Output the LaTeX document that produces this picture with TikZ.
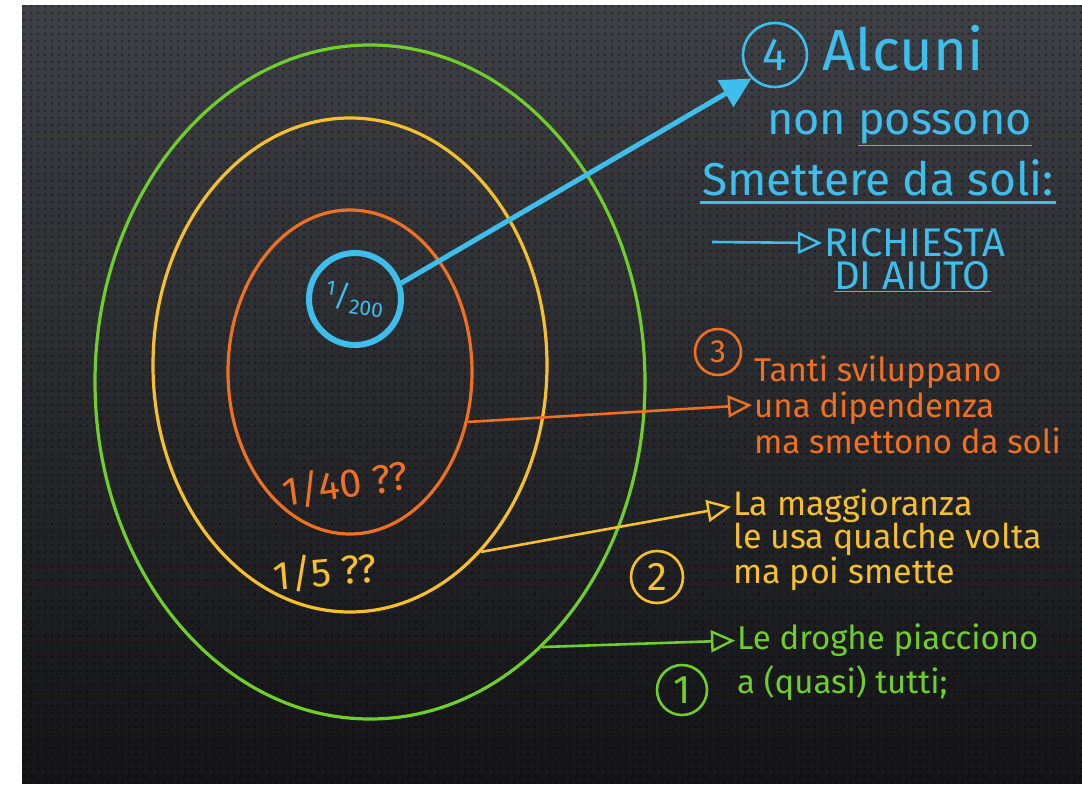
\documentclass[tikz,border=0pt]{standalone}
\usepackage{fontspec}
\setmainfont{Fira Sans}
\usetikzlibrary{shapes.geometric, arrows.meta, positioning, calc, patterns.meta}
\definecolor{boardtop}{RGB}{62,64,69}
\definecolor{boardbot}{RGB}{20,20,23}
\definecolor{chalkgreen}{RGB}{112,206,42}
\definecolor{chalkyellow}{RGB}{246,192,44}
\definecolor{chalkorange}{RGB}{240,112,34}
\definecolor{chalkblue}{RGB}{62,190,236}
\tikzdeclarepattern{
  name=boarddots,
  type=uncolored,
  bounding box={(0pt,0pt) and (7pt,7pt)},
  tile size={(7pt,7pt)},
  code={\fill (3.5pt,3.5pt) circle (1.7pt);}
}

\begin{document}
\begin{tikzpicture}[
    x=1pt, y=-1pt,
    ring/.style={ellipse, draw, line width=3.2pt, inner sep=0pt},
    num/.style={circle, draw, line width=2.6pt, inner sep=0pt, font=\fontsize{40}{42}\selectfont},
    note/.style={align=left, anchor=west, inner sep=2pt},
    arrow/.style={-{Triangle[open, length=24pt, width=22pt, line width=2.4pt]}, line width=2.6pt}
]
% board
\useasboundingbox (0,0) rectangle (1082,786);
\fill[white] (0,0) rectangle (1082,786);
\shade[top color=boardtop, bottom color=boardbot] (22,6) rectangle (1082,783);
\fill[pattern=boarddots, pattern color=black, opacity=0.35] (22,6) rectangle (1082,783);

% rings
\node[ring, draw=chalkgreen, minimum width=550pt, minimum height=674pt] (ring1) at (370,382) {};
\node[ring, draw=chalkyellow, minimum width=394pt, minimum height=494pt] (ring2) at (350,365) {};
\node[ring, draw=chalkorange, minimum width=244pt, minimum height=324pt] (ring3) at (350,372) {};
\node[circle, draw=chalkblue, line width=6pt, minimum size=92pt, inner sep=0pt, text=chalkblue,
      font=\fontsize{30}{32}\selectfont, rotate=-8] (ring4) at (355,299) {\textsuperscript{1}/\textsubscript{200}};

\node[text=chalkorange, font=\fontsize{40}{42}\selectfont, rotate=8] (share3) at (345,484) {1/40 ??};
\node[text=chalkyellow, font=\fontsize{40}{42}\selectfont, rotate=5] (share2) at (325,572) {1/5 ??};

% 4 -- blue
\node[num, draw=chalkblue, text=chalkblue, minimum size=64pt, font=\fontsize{46}{48}\selectfont] (num4) at (775,55) {4};
\node[note, text=chalkblue, font=\fontsize{58}{60}\selectfont] (alcuni) at (820,48) {Alcuni};
\node[note, text=chalkblue, font=\fontsize{45}{47}\selectfont] (possono) at (765,128) {non \underline{possono}};
\node[note, text=chalkblue, font=\fontsize{46}{48}\selectfont] (smettere) at (700,178) {Smettere da soli:};
\draw[chalkblue, line width=2.6pt] (smettere.south west) ++(0,4) coordinate (rulefrom) -- ++(356,0) coordinate (ruleto);
\node[note, text=chalkblue, font=\fontsize{40}{42}\selectfont] (richiesta) at (822,243) {RICHIESTA};
\node[note, text=chalkblue, font=\fontsize{40}{42}\selectfont] (aiuto) at (832,277) {\underline{DI AIUTO}};
\coordinate (helpfrom) at (712,242);
\draw[arrow, chalkblue] (helpfrom) -- (richiesta.west);
\draw[chalkblue, line width=5pt, -{Triangle[length=30pt, width=30pt]}] (ring4.27) -- (num4.225);

% 3 -- orange
\node[num, draw=chalkorange, text=chalkorange, minimum size=46pt, font=\fontsize{32}{34}\selectfont] (num3) at (718,352) {3};
\node[note, text=chalkorange, font=\fontsize{33}{36}\selectfont] (tanti) at (752,405)
    {Tanti sviluppano\\una dipendenza\\ma smettono da soli};
\draw[arrow, chalkorange] (ring3.-23) -- (tanti.west);

% 2 -- yellow
\node[num, draw=chalkyellow, text=chalkyellow, minimum size=52pt] (num2) at (657,577) {2};
\node[note, text=chalkyellow, font=\fontsize{34}{33}\selectfont] (maggioranza) at (731,540)
    {La maggioranza\\le usa qualche volta\\ma poi smette};
\draw[arrow, chalkyellow] (ring2.-55) -- (maggioranza.168);

% 1 -- green
\node[num, draw=chalkgreen, text=chalkgreen, minimum size=50pt] (num1) at (682,690) {1};
\node[note, text=chalkgreen, font=\fontsize{33}{44}\selectfont] (droghe) at (735,662)
    {Le droghe piacciono\\a (quasi) tutti;};
\draw[arrow, chalkgreen] (ring1.-57) -- (droghe.172);
\end{tikzpicture}
\end{document}
